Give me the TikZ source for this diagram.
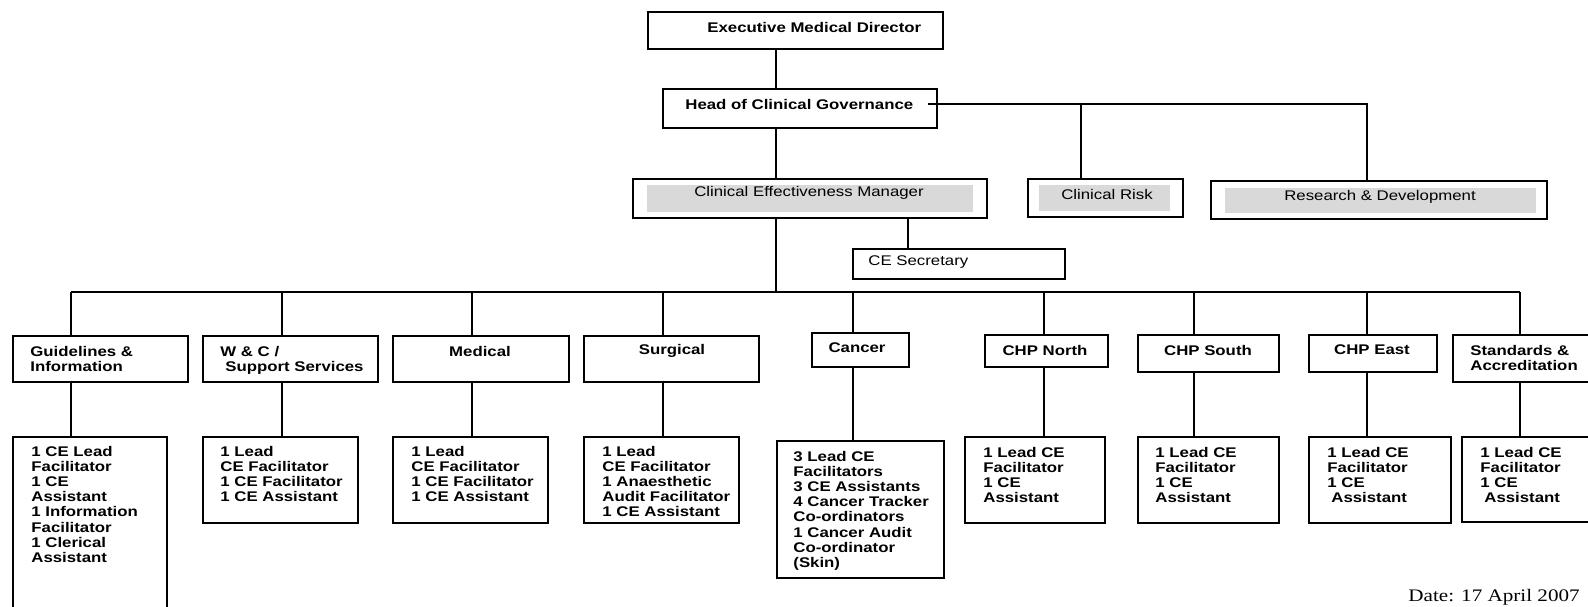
\documentclass[tikz,border=0pt]{standalone}
\usepackage{fontspec}
\setmainfont{Liberation Sans}[FakeStretch=1.2]
\newfontfamily\datefont{Liberation Serif}[FakeStretch=1.2]
\usetikzlibrary{positioning,fit}

\begin{document}
\begin{tikzpicture}[
    x=0.5pt, y=-0.5pt,
    unit/.style={
        draw, line width=1pt, inner sep=0pt
    },
    greyfill/.style={fill=black!15, inner sep=0pt},
    lbl/.style={inner sep=0pt, align=left, font=\fontsize{7}{7.55}\selectfont\bfseries},
    lblplain/.style={inner sep=0pt, align=left, font=\fontsize{7}{7.55}\selectfont},
    link/.style={line width=1pt}
]
\useasboundingbox (0,0) rectangle (1588,606);
\clip (0,0) rectangle (1588,606);

% Top
\node[unit, fit={(648,12) (943,49)}] (exec) {};
\node[lbl, anchor=west] (exec-t) at (707,27) {Executive Medical Director};
\node[unit, fit={(663,89) (937,128)}] (head) {};
\node[lbl, anchor=west] (head-t) at (685,104) {Head of Clinical Governance};

% Governance branches
\node[unit, fit={(633,179) (987,218)}] (cem) {};
\node[greyfill, fit={(647,185) (973,212)}] (cem-in) {};
\node[lblplain] (cem-t) at (809,193) {Clinical Effectiveness Manager};
\node[unit, fit={(1028,179) (1183,217)}] (cr) {};
\node[greyfill, fit={(1039,185) (1170,211)}] (cr-in) {};
\node[lblplain] (cr-t) at (1107,194) {Clinical Risk};
\node[unit, fit={(1211,181) (1547,219)}] (rd) {};
\node[greyfill, fit={(1225,188) (1536,213)}] (rd-in) {};
\node[lblplain] (rd-t) at (1380,197) {Research \& Development};
\node[unit, fit={(853,249) (1065,279)}] (sec) {};
\node[lblplain, anchor=west] (sec-t) at (868,262) {CE Secretary};

% Teams
\node[unit, fit={(13,336) (188,382)}] (gi) {};
\node[unit, fit={(203,336) (378,382)}] (wc) {};
\node[unit, fit={(393,336) (569,382)}] (med) {};
\node[unit, fit={(584,336) (759,382)}] (sur) {};
\node[unit, fit={(812,333) (909,367)}] (can) {};
\node[unit, fit={(985,335) (1108,367)}] (chpn) {};
\node[unit, fit={(1138,335) (1279,372)}] (chps) {};
\node[unit, fit={(1309,335) (1437,372)}] (chpe) {};
\node[unit, fit={(1453,335) (1600,382)}] (std) {};

\node[lbl, anchor=north west] (gi-t) at (30,346) {Guidelines \&\\Information};
\node[lbl, anchor=north west] (wc-t) at (220,346) {W \& C /\\\hspace*{2.5pt}Support Services};
\node[lbl] (med-t) at (480,351) {Medical};
\node[lbl] (sur-t) at (672,351) {Surgical};
\node[lbl] (can-t) at (857,348) {Cancer};
\node[lbl] (chpn-t) at (1045,350) {CHP North};
\node[lbl] (chps-t) at (1208,350) {CHP South};
\node[lbl] (chpe-t) at (1372,350) {CHP East};
\node[lbl, anchor=north west] (std-t) at (1470,345) {Standards \&\\Accreditation};

% Staff in each team
\node[unit, fit={(13,437) (167,615)}] (gi-staff) {};
\node[unit, fit={(203,437) (358,523)}] (wc-staff) {};
\node[unit, fit={(393,437) (548,523)}] (med-staff) {};
\node[unit, fit={(584,437) (739,523)}] (sur-staff) {};
\node[unit, fit={(777,441) (944,578)}] (can-staff) {};
\node[unit, fit={(965,437) (1105,523)}] (chpn-staff) {};
\node[unit, fit={(1138,437) (1279,523)}] (chps-staff) {};
\node[unit, fit={(1309,437) (1451,523)}] (chpe-staff) {};
\node[unit, fit={(1462,437) (1600,522)}] (std-staff) {};

\node[lbl, anchor=north west] (gi-st) at (31,446) {1 CE Lead\\Facilitator\\1 CE\\Assistant\\1 Information\\Facilitator\\1 Clerical\\Assistant};
\node[lbl, anchor=north west] (wc-st) at (220,446) {1 Lead\\CE Facilitator\\1 CE Facilitator\\1 CE Assistant};
\node[lbl, anchor=north west] (med-st) at (411,446) {1 Lead\\CE Facilitator\\1 CE Facilitator\\1 CE Assistant};
\node[lbl, anchor=north west] (sur-st) at (602,446) {1 Lead\\CE Facilitator\\1 Anaesthetic\\Audit Facilitator\\1 CE Assistant};
\node[lbl, anchor=north west] (can-st) at (793,451) {3 Lead CE\\Facilitators\\3 CE Assistants\\4 Cancer Tracker\\Co-ordinators\\1 Cancer Audit\\Co-ordinator\\(Skin)};
\node[lbl, anchor=north west] (chpn-st) at (983,447) {1 Lead CE\\Facilitator\\1 CE\\Assistant};
\node[lbl, anchor=north west] (chps-st) at (1155,447) {1 Lead CE\\Facilitator\\1 CE\\Assistant};
\node[lbl, anchor=north west] (chpe-st) at (1327,447) {1 Lead CE\\Facilitator\\1 CE\\\hspace*{2pt}Assistant};
\node[lbl, anchor=north west] (std-st) at (1480,447) {1 Lead CE\\Facilitator\\1 CE\\\hspace*{2pt}Assistant};

\node[anchor=base west, inner sep=0pt, font=\datefont\fontsize{8.8}{10}\selectfont] (date) at (1408,601) {Date: 17 April 2007};

% Connectors
\coordinate (spine) at (776,0);
\coordinate (sec-x) at (908,0);
\coordinate (cr-x) at (1081,0);
\coordinate (rd-x) at (1367,0);
\coordinate (hgov) at (928,104);
\coordinate (bus) at (0,292);
\foreach \col/\x in {gi/71, wc/282, med/472, sur/663, can/853, chpn/1044, chps/1194, chpe/1367, std/1520}
    \coordinate (\col-x) at (\x,0);

\draw[link] (exec.south -| spine) -- (head.north -| spine);
\draw[link] (head.south -| spine) -- (cem.north -| spine);
\draw[link] (hgov) -- (hgov -| rd-x) -- (rd.north -| rd-x);
\draw[link] (hgov -| cr-x) -- (cr.north -| cr-x);
\draw[link] (cem.south -| spine) -- (bus -| spine);
\draw[link] (cem.south -| sec-x) -- (sec.north -| sec-x);
\draw[link] (bus -| gi-x) -- (bus -| std-x);

\foreach \col in {gi, wc, med, sur, can, chpn, chps, chpe, std}
{
    \draw[link] (bus -| \col-x) -- (\col.north -| \col-x);
    \draw[link] (\col.south -| \col-x) -- (\col-staff.north -| \col-x);
}

\end{tikzpicture}
\end{document}
